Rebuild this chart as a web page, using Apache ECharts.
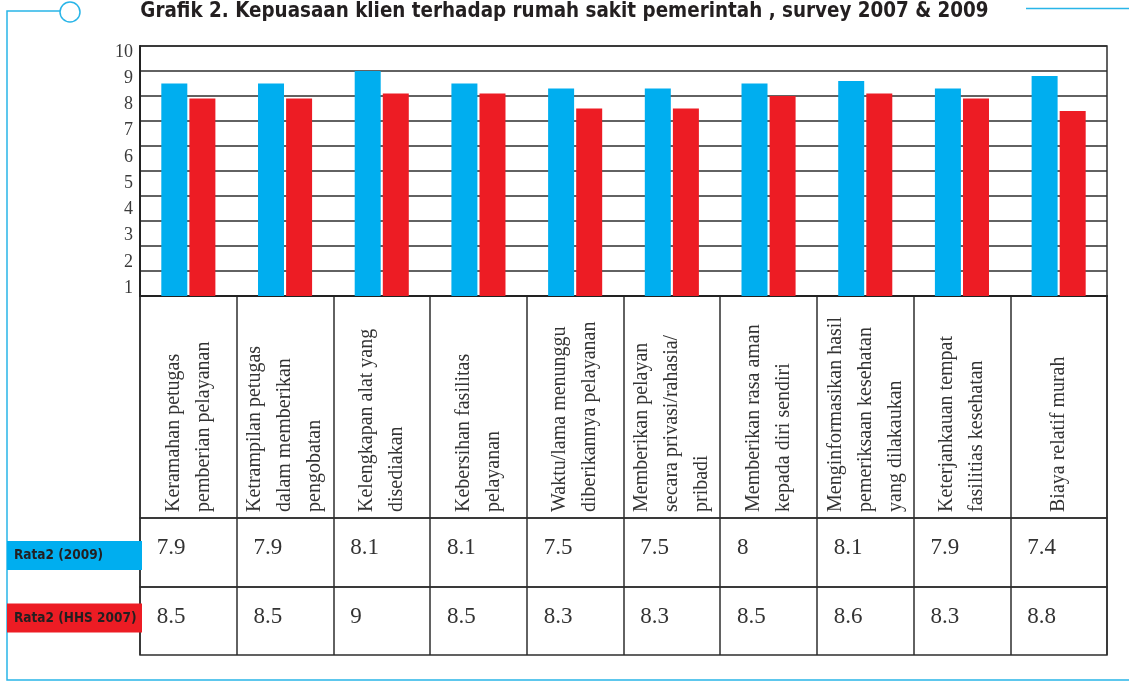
<!DOCTYPE html>
<html><head><meta charset="utf-8">
<script src="https://cdn.jsdelivr.net/npm/echarts@6/dist/echarts.min.js"></script>
<style>html,body{margin:0;padding:0;background:#fff}#c{width:1129px;height:687px}</style>
</head><body><div id="c"></div>
<script>
const chartTitle = 'Grafik 2. Kepuasaan klien terhadap rumah sakit pemerintah , survey 2007 & 2009';
const categories = [
  'Keramahan petugas\npemberian pelayanan',
  'Ketrampilan petugas\ndalam memberikan\npengobatan',
  'Kelengkapan alat yang\ndisediakan',
  'Kebersihan fasilitas\npelayanan',
  'Waktu/lama menunggu\ndiberikannya pelayanan',
  'Memberikan pelayan\nsecara privasi/rahasia/\npribadi',
  'Memberikan rasa aman\nkepada diri sendiri',
  'Menginformasikan hasil\npemeriksaan kesehatan\nyang dilakaukan',
  'Keterjankauan tempat\nfasilitias kesehatan',
  'Biaya relatif murah'
];
const rata2009 = [7.9, 7.9, 8.1, 8.1, 7.5, 7.5, 8, 8.1, 7.9, 7.4];
const rataHHS2007 = [8.5, 8.5, 9, 8.5, 8.3, 8.3, 8.5, 8.6, 8.3, 8.8];
const rowNames = ['Rata2 (2009)', 'Rata2 (HHS 2007)'];

const BLUE = '#00aeef', RED = '#ed1c24', CYAN = '#29b5e8', INK = '#231f20', LINE = '#2e2e2e';
const SERIF = '"Liberation Serif", "DejaVu Serif", serif';
const NARROW = '"DejaVu Sans Condensed", "Liberation Sans Narrow", sans-serif';
const L = 140, R = 22;
const gridBorder = { show: true, borderColor: LINE, borderWidth: 1.5, backgroundColor: 'transparent' };
const split = { show: true, interval: 0, lineStyle: { color: LINE, width: 1.5 } };

function rowAxisLabel() {
  return {
    inside: true, margin: 30, interval: 0, align: 'center', verticalAlign: 'middle',
    formatter: v => '{a|' + v + '}',
    rich: { a: { width: 63, align: 'left', fontFamily: SERIF, fontSize: 23, color: '#333' } }
  };
}
function rowNameLabel(color, pad) {
  return {
    margin: -2,
    padding: pad,
    formatter: v => '{a|' + v + '}',
    rich: { a: { width: 128, height: 29, lineHeight: 29, align: 'left', padding: [0, 0, 0, 7],
      backgroundColor: color, fontFamily: NARROW, fontWeight: 'bold', fontSize: 13.5, color: INK } }
  };
}

const chart = echarts.init(document.getElementById('c'));
chart.setOption({
  animation: false,
  backgroundColor: '#fff',
  title: { text: chartTitle, left: 'center', top: 2, padding: 0,
    textStyle: { fontFamily: NARROW, fontWeight: 'bold', fontSize: 20.4, color: INK } },
  grid: [
    Object.assign({ left: L, right: R, top: 46, height: 250 }, gridBorder),
    { left: L, right: R, top: 52, height: 236, show: false },
    Object.assign({ left: L, right: R, top: 296, height: 222 }, gridBorder),
    Object.assign({ left: L, right: R, top: 518, height: 69 }, gridBorder),
    Object.assign({ left: L, right: R, top: 587, height: 68 }, gridBorder)
  ],
  xAxis: [
    { gridIndex: 0, type: 'category', data: categories, axisTick: { show: false },
      axisLabel: { show: false }, axisLine: { lineStyle: { color: '#222', width: 2 } } },
    { gridIndex: 1, type: 'value', show: false },
    { gridIndex: 2, type: 'category', data: categories, axisTick: { show: false },
      axisLine: { show: false }, splitLine: split,
      axisLabel: { inside: true, margin: 6, rotate: 90, interval: 0, align: 'left', verticalAlign: 'middle',
        fontFamily: SERIF, fontSize: 20, lineHeight: 30, color: '#333' } },
    { gridIndex: 3, type: 'category', position: 'top', data: rata2009.map(String), axisTick: { show: false },
      axisLine: { show: false }, splitLine: split, axisLabel: rowAxisLabel() },
    { gridIndex: 4, type: 'category', position: 'top', data: rataHHS2007.map(String), axisTick: { show: false },
      axisLine: { show: false }, splitLine: split, axisLabel: rowAxisLabel() }
  ],
  yAxis: [
    { gridIndex: 0, type: 'value', min: 0, max: 10, interval: 1,
      axisLine: { show: true, lineStyle: { color: '#222', width: 2 } }, axisTick: { show: false },
      axisLabel: { show: false }, splitLine: { lineStyle: { color: LINE, width: 1.5 } } },
    { gridIndex: 1, type: 'value', min: 1, max: 10, interval: 1,
      axisLine: { show: false }, axisTick: { show: false }, splitLine: { show: false },
      axisLabel: { margin: 7, fontFamily: SERIF, fontSize: 18, color: '#3a3a3a' } },
    { gridIndex: 2, type: 'value', min: 0, max: 1, show: false },
    { gridIndex: 3, type: 'category', data: [rowNames[0]], axisLine: { show: false }, axisTick: { show: false },
      axisLabel: rowNameLabel(BLUE, [6, 0, 0, 0]) },
    { gridIndex: 4, type: 'category', data: [rowNames[1]], axisLine: { show: false }, axisTick: { show: false },
      axisLabel: rowNameLabel(RED, [0, 0, 6, 0]) }
  ],
  series: [
    { name: rowNames[1], type: 'bar', xAxisIndex: 0, yAxisIndex: 0, data: rataHHS2007,
      barWidth: 26, barGap: '8%', itemStyle: { color: BLUE } },
    { name: rowNames[0], type: 'bar', xAxisIndex: 0, yAxisIndex: 0, data: rata2009,
      barWidth: 26, itemStyle: { color: RED } }
  ],
  graphic: [
    { type: 'polyline', shape: { points: [[60, 11], [7, 11], [7, 680], [1129, 680]] },
      style: { stroke: CYAN, lineWidth: 1.5, fill: null } },
    { type: 'circle', shape: { cx: 70, cy: 12, r: 10 }, style: { stroke: CYAN, lineWidth: 1.5, fill: '#fff' } },
    { type: 'line', shape: { x1: 1026, y1: 8.5, x2: 1129, y2: 8.5 }, style: { stroke: CYAN, lineWidth: 1.5 } }
  ]
});
</script>
</body></html>
